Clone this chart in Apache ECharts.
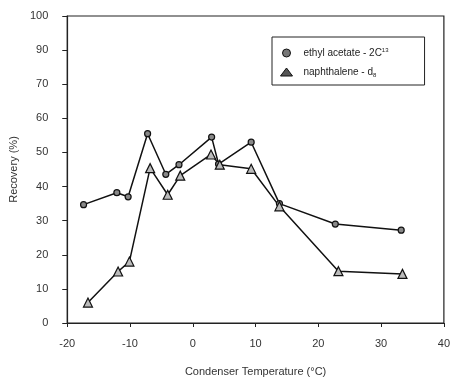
<!DOCTYPE html>
<html>
<head>
<meta charset="utf-8">
<script src="https://cdn.jsdelivr.net/npm/echarts@6/dist/echarts.min.js"></script>
<style>
html,body{margin:0;padding:0;background:#fff;}
#c{width:453px;height:382px;}
</style>
</head>
<body>
<div id="c"></div>
<script>
// Data
var ethylX = [-17.4, -12.1, -10.3, -7.2, -4.3, -2.2, 3.0, 4.1, 9.3, 13.8, 22.7, 33.2];
var ethylY = [34.7, 38.2, 37.0, 55.5, 43.6, 46.4, 54.5, 46.6, 53.0, 35.0, 29.0, 27.2];
var naphX = [-16.7, -11.9, -10.1, -6.8, -4.0, -2.0, 2.9, 4.3, 9.3, 13.8, 23.2, 33.4];
var naphY = [6.0, 15.1, 18.0, 45.4, 37.6, 43.2, 49.4, 46.4, 45.2, 34.2, 15.2, 14.4];
// Tick labels as printed in the reference (note: no "80")
var yTickLabels = ['0', '10', '20', '30', '40', '50', '60', '70', '90', '100'];
var xTickLabels = ['-20', '-10', '0', '10', '20', '30', '40'];

function pairs(xs, ys) { return xs.map(function (x, i) { return [x, ys[i]]; }); }

var chart = echarts.init(document.getElementById('c'));
var font = 'Liberation Sans, Arial, sans-serif';
chart.setOption({
  animation: false,
  backgroundColor: '#fff',
  grid: { left: 66, right: 7, top: 16, bottom: 57, show: true, borderColor: '#222', borderWidth: 1.2 },
  xAxis: {
    type: 'value', min: -20, max: 40, interval: 10,
    name: 'Condenser Temperature (\u00b0C)', nameLocation: 'middle', nameGap: 43,
    nameTextStyle: { fontFamily: font, fontSize: 11, color: '#333' },
    axisLine: { show: true, onZero: false, lineStyle: { color: '#222', width: 1.2 } },
    axisTick: { show: true, length: 4, lineStyle: { color: '#222' } },
    axisLabel: { margin: 15, fontFamily: font, fontSize: 11, color: '#333',
      formatter: function (v) { var i = Math.round((v + 20) / 10); return xTickLabels[i] !== undefined ? xTickLabels[i] : ''; } },
    splitLine: { show: false }
  },
  yAxis: {
    type: 'value', min: 0, max: 90, interval: 10,
    name: 'Recovery (%)', nameLocation: 'middle', nameGap: 24,
    nameTextStyle: { fontFamily: font, fontSize: 11, color: '#333' },
    axisLine: { show: true, onZero: false, lineStyle: { color: '#222', width: 1.2 } },
    axisTick: { show: true, length: 5, lineStyle: { color: '#222' } },
    axisLabel: { margin: 19, fontFamily: font, fontSize: 11, color: '#333',
      formatter: function (v) { var i = Math.round(v / 10); return yTickLabels[i] !== undefined ? yTickLabels[i] : ''; } },
    splitLine: { show: false }
  },
  legend: {
    orient: 'vertical', left: 272, top: 37,
    padding: [10, 36, 7, 8], itemGap: 9, itemWidth: 12, itemHeight: 8,
    borderColor: '#222', borderWidth: 1, backgroundColor: '#fff',
    textStyle: { fontFamily: font, fontSize: 10, color: '#222',
      rich: {
        t: { fontFamily: font, fontSize: 10, color: '#222', padding: [0, 0, 0, 6] },
        sup: { fontFamily: font, fontSize: 6, color: '#222', verticalAlign: 'top', padding: [0, 0, 6, 0] },
        sub: { fontFamily: font, fontSize: 6, color: '#222', verticalAlign: 'bottom', padding: [6, 0, 0, 0] }
      } },
    formatter: function (name) {
      if (name === 'ethyl') return '{t|ethyl acetate - 2C}{sup|13}';
      return '{t|naphthalene - d}{sub|8}';
    },
    data: [
      { name: 'ethyl', icon: 'circle', itemStyle: { color: '#777', borderColor: '#111', borderWidth: 1 } },
      { name: 'naph', icon: 'triangle', itemStyle: { color: '#555', borderColor: '#111', borderWidth: 1 } }
    ]
  },
  series: [
    { name: 'ethyl', type: 'line', data: pairs(ethylX, ethylY),
      symbol: 'circle', symbolSize: 6,
      lineStyle: { color: '#111', width: 1.5 },
      itemStyle: { color: '#888', borderColor: '#111', borderWidth: 1.2 } },
    { name: 'naph', type: 'line', data: pairs(naphX, naphY),
      symbol: 'triangle', symbolSize: 9,
      lineStyle: { color: '#111', width: 1.5 },
      itemStyle: { color: '#bbb', borderColor: '#111', borderWidth: 1.2 } }
  ]
});
</script>
</body>
</html>
